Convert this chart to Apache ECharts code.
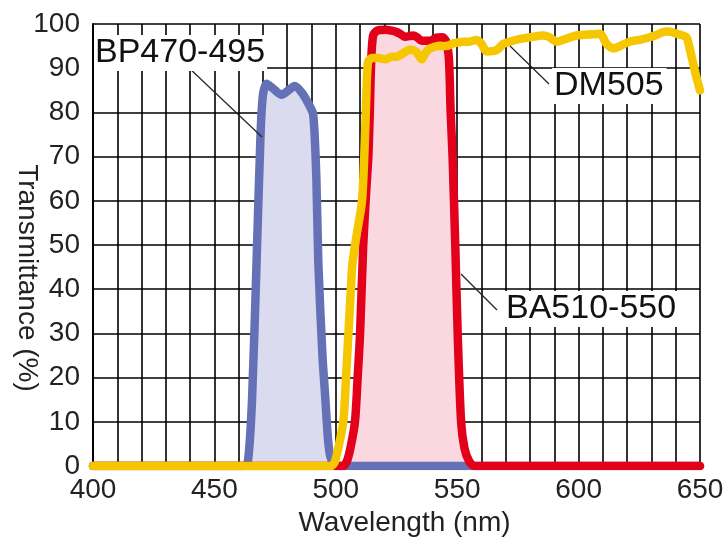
<!DOCTYPE html>
<html><head><meta charset="utf-8">
<script src="https://cdn.jsdelivr.net/npm/echarts@6/dist/echarts.min.js"></script>
<style>html,body{margin:0;padding:0;background:#fff}#c{width:728px;height:547px}</style>
</head><body><div id="c"></div>
<script>
// Wavelength (nm) and transmittance (%)
const bpWave  = [400, 462, 463.8, 465.5, 467.3, 469, 470, 471.5, 474, 477.7, 480.5, 483, 486, 488.7, 490.7, 492, 492.8, 494.5, 495.6, 496.8, 497.8, 500, 650];
const bpTrans = [0,   0,   1,     15,    45,    75,  84,  86.5,  85.5, 84,   85,    86,  84.5, 82,   79.5,  65,  46,    25,    16,    6,     2,     0,   0];

const baWave  = [400, 503, 504.5, 506, 507.9, 509, 510, 511.3, 512.5, 513.4, 514, 514.6, 515.4, 517, 520.3, 523, 525, 527, 528.5, 531.9, 533.5, 535.4, 538.8, 541.5, 544, 545.5, 546.6, 547.3, 548.1, 549.2, 550.2, 551.6, 553, 555, 557, 650];
const baTrans = [0,   0,   1,     4,   10,    20,  30,  50,    62,    70,    80,  92,    97.5,  98.5, 98.7, 98.5, 98.2, 97.6, 97.1, 97.4, 97,   96.2,  96.2,  96.9,  97,  96,    92,    80,    70,    50,    30,    10,    4,   1,   0,   0];

const dmWave  = [400, 498, 499.5, 501, 503.1, 504.2, 505.2, 506.2, 506.8, 508.5, 510.8, 512, 512.6, 513.3, 515, 517.5, 520.3, 523, 525, 528, 530.6, 533, 535.4, 537, 538.8, 542.9, 545.5, 548.4, 552.5, 555, 558, 560, 562.1, 566.2, 569, 571.7, 575, 580, 585.5, 588, 591, 594, 599.2, 604, 608.8, 611.5, 614.3, 617, 621, 625, 629.3, 632, 634.8, 637, 640.3, 644.4, 645.5, 647.2, 648.5, 650];
const dmTrans = [0,   0,   0.8,   4,   10,    20,    30,    40,    45.5,  52,    60,    74,  84,    91.5,  92.3, 92.3, 92,  92.6, 92.6, 93.5, 94.2, 93.8, 92,  93.5, 94.5, 95,   95,   95.6,  96,   96,  96.4, 95.5, 93.8,  94.1,  95.5, 96,    96.5, 97,  97.4,  97,  96,  96.5, 97.4,  97.6, 97.8,  95.5,  94.5,  95,  96,  96.4, 97,    97.5, 98.2,  98.3, 97.8,  97,    95,    91,    88,    85];

const xTicks = [400, 450, 500, 550, 600, 650];
const yTicks = [0, 10, 20, 30, 40, 50, 60, 70, 80, 90, 100];
const seriesNames = ['BP470-495', 'BA510-550', 'DM505'];
const xTitle = 'Wavelength (nm)';
const yTitle = 'Transmittance (%)';

const zip = (a, b) => a.map((v, i) => [v, b[i]]);
const FONT = '"Liberation Sans", Arial, Helvetica, sans-serif';

const chart = echarts.init(document.getElementById('c'), null, {renderer: 'canvas'});

const lineBase = (name, wave, trans, color, z) => ({
  name, type: 'line', data: zip(wave, trans), showSymbol: false, smooth: 0.25, z,
  lineStyle: {color, width: 8.5, cap: 'round', join: 'round'}, silent: true
});
const fillBase = (name, wave, trans, color) => ({
  name: name + ' fill', type: 'line', data: zip(wave, trans), showSymbol: false, smooth: 0.25, z: 1,
  lineStyle: {width: 0}, areaStyle: {color, opacity: 1, origin: 'start'}, silent: true
});

chart.setOption({
  animation: false,
  grid: {left: 93, right: 28, top: 24, bottom: 81, containLabel: false, outerBoundsMode: 'none'},
  xAxis: {
    type: 'value', min: 400, max: 650, interval: 10,
    name: xTitle, nameLocation: 'middle', nameGap: 42,
    nameTextStyle: {fontFamily: FONT, fontSize: 28, color: '#222', padding: [0, 0, 0, 16]},
    axisLine: {show: true, lineStyle: {color: '#000', width: 2}},
    axisTick: {show: false},
    axisLabel: {
      margin: 10, fontFamily: FONT, fontSize: 28, color: '#222',
      formatter: v => xTicks.includes(v) ? String(v) : ''
    },
    splitLine: {show: true, lineStyle: {color: '#000', width: 1.6}}
  },
  yAxis: {
    type: 'value', min: 0, max: 100, interval: 10,
    axisLine: {show: true, lineStyle: {color: '#000', width: 2}},
    axisTick: {show: false},
    axisLabel: {
      margin: 13, fontFamily: FONT, fontSize: 28, color: '#222',
      formatter: v => yTicks.includes(v) ? String(v) : ''
    },
    splitLine: {show: true, lineStyle: {color: '#000', width: 1.6}}
  },
  series: [
    fillBase(seriesNames[0], bpWave, bpTrans, '#dadbee'),
    fillBase(seriesNames[1], baWave, baTrans, '#fbd7e0'),
    lineBase(seriesNames[0], bpWave, bpTrans, '#6571b6', 3),
    lineBase(seriesNames[1], baWave, baTrans, '#e2001b', 4),
    lineBase(seriesNames[2], dmWave, dmTrans, '#f6c700', 5)
  ],
  graphic: [
    {type: 'text', z: 21, x: 27, y: 278, rotation: -Math.PI / 2, style: {text: yTitle, font: '28px ' + FONT, fill: '#222', align: 'center', verticalAlign: 'middle'}},
    {type: 'line', z: 20, shape: {x1: 188, y1: 67, x2: 262, y2: 137}, style: {stroke: '#222', lineWidth: 1.2}},
    {type: 'line', z: 20, shape: {x1: 510, y1: 46, x2: 549, y2: 84}, style: {stroke: '#222', lineWidth: 1.2}},
    {type: 'line', z: 20, shape: {x1: 461, y1: 274, x2: 497, y2: 310}, style: {stroke: '#222', lineWidth: 1.2}},
    {type: 'text', z: 21, x: 94, y: 53, style: {text: seriesNames[0], font: '34px ' + FONT, fill: '#111', verticalAlign: 'middle', backgroundColor: '#fff', padding: [1, 2, 1, 1]}},
    {type: 'text', z: 21, x: 552, y: 86, style: {text: seriesNames[2], font: '34px ' + FONT, fill: '#111', verticalAlign: 'middle', backgroundColor: '#fff', padding: [1, 3, 1, 2]}},
    {type: 'text', z: 21, x: 504, y: 309, style: {text: seriesNames[1], font: '34px ' + FONT, fill: '#111', verticalAlign: 'middle', backgroundColor: '#fff', padding: [1, 3, 1, 2]}}
  ]
});
</script></body></html>
